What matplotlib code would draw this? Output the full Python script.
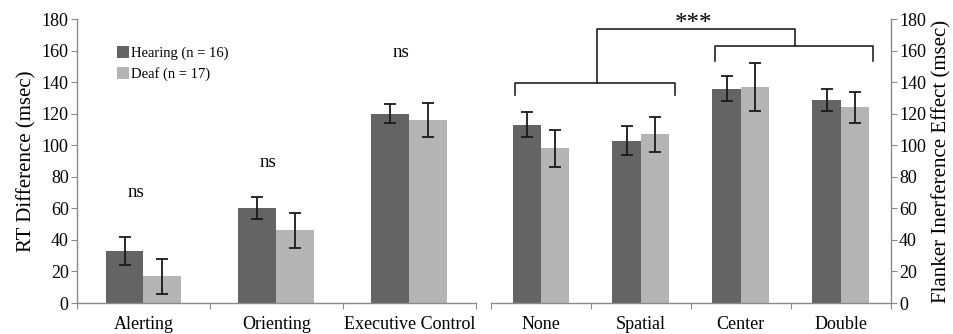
import numpy as np
import matplotlib.pyplot as plt
from matplotlib.patches import Patch

plt.rcParams['font.family'] = ['Liberation Serif', 'DejaVu Serif']

# ANT network scores (left) and flanker interference by cue type (right)
network_labels = ['Alerting', 'Orienting', 'Executive Control']
network_hearing = [33, 60, 120]
network_hearing_err = [9, 7, 6]
network_deaf = [17, 46, 116]
network_deaf_err = [11, 11, 11]
network_sig = ['ns', 'ns', 'ns']
sig_heights = [70, 89, 159]

cue_labels = ['None', 'Spatial', 'Center', 'Double']
cue_hearing = [113, 103, 136, 129]
cue_hearing_err = [8, 9, 8, 7]
cue_deaf = [98, 107, 137, 124]
cue_deaf_err = [12, 11, 15, 10]

group_labels = ['Hearing (n = 16)', 'Deaf (n = 17)']

DARK = '#646464'
LIGHT = '#b4b4b4'
SPINE = '#8a8a8a'
BAR_W = 0.285

fig = plt.figure(figsize=(9.54, 3.34), dpi=100)
ax_l = fig.add_axes([0.0807, 0.0928, 0.418, 0.850])
ax_r = fig.add_axes([0.5147, 0.0928, 0.419, 0.850])


def draw_bars(ax, labels, hearing, hearing_err, deaf, deaf_err):
    x = np.arange(len(labels))
    err_kw = dict(ecolor='#1a1a1a', elinewidth=1.3, capsize=4, capthick=1.3)
    ax.bar(x - BAR_W / 2, hearing, BAR_W, yerr=hearing_err, color=DARK, error_kw=err_kw)
    ax.bar(x + BAR_W / 2, deaf, BAR_W, yerr=deaf_err, color=LIGHT, error_kw=err_kw)
    ax.set_xlim(-0.5, len(labels) - 0.5)
    ax.set_ylim(0, 180)
    ax.set_yticks(np.arange(0, 181, 20))
    # boundary ticks on the category axis, labels centred under each group
    ax.set_xticks(np.arange(len(labels) + 1) - 0.5)
    ax.set_xticklabels([])
    ax.set_xticks(x, minor=True)
    ax.set_xticklabels(labels, minor=True, fontsize=13)
    ax.tick_params(axis='x', which='minor', length=0, pad=9)
    ax.tick_params(axis='x', which='major', length=4, color=SPINE, direction='out')
    ax.tick_params(axis='y', length=4, color=SPINE, labelsize=13, pad=2)
    ax.spines['top'].set_visible(False)
    for s in ax.spines.values():
        s.set_color(SPINE)
        s.set_linewidth(1.0)


draw_bars(ax_l, network_labels, network_hearing, network_hearing_err,
          network_deaf, network_deaf_err)
ax_l.spines['right'].set_visible(False)
ax_l.set_ylabel('RT Difference (msec)', fontsize=15, labelpad=4)
for i, (txt, h) in enumerate(zip(network_sig, sig_heights)):
    ax_l.text(i - 0.06, h, txt, ha='center', va='center', fontsize=13.5)

draw_bars(ax_r, cue_labels, cue_hearing, cue_hearing_err, cue_deaf, cue_deaf_err)
ax_r.spines['left'].set_visible(False)
ax_r.yaxis.tick_right()
ax_r.yaxis.set_label_position('right')
ax_r.set_ylabel('Flanker Inerference Effect (msec)', fontsize=15, labelpad=4)

# comparison brackets: (None, Spatial) vs (Center, Double)
bk = dict(color='#222222', lw=1.2, clip_on=False)
ax_r.plot([-0.26, -0.26, 1.34, 1.34], [132, 139.5, 139.5, 132], **bk)
ax_r.plot([1.74, 1.74, 3.32, 3.32], [153.5, 163, 163, 153.5], **bk)
ax_r.plot([0.56, 0.56, 2.54, 2.54], [139.5, 173.6, 173.6, 163], **bk)
ax_r.text(1.53, 177, '***', ha='center', va='center', fontsize=18)

handles = [Patch(facecolor=DARK), Patch(facecolor=LIGHT)]
ax_l.legend(handles, group_labels, loc='upper left', bbox_to_anchor=(0.1, 0.905),
            frameon=False, fontsize=10.5, handlelength=0.85, handleheight=0.85,
            handletextpad=0.15, labelspacing=0.5, borderpad=0, borderaxespad=0)

fig.savefig('out.png', dpi=100)
